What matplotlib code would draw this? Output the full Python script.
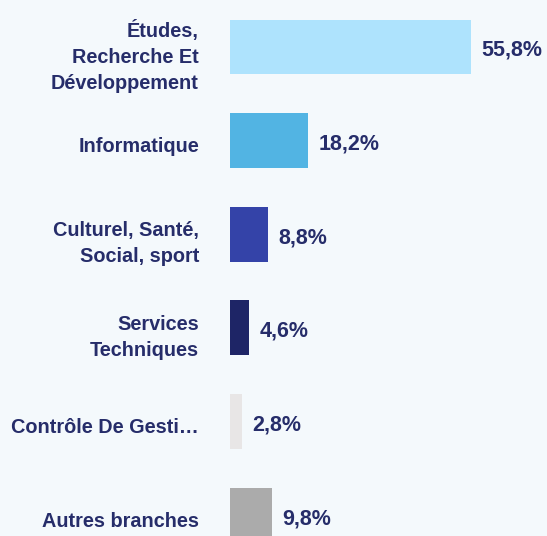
import matplotlib.pyplot as plt
from matplotlib.transforms import ScaledTranslation

categories = ["Études,\nRecherche Et\nDéveloppement", "Informatique",
              "Culturel, Santé,\nSocial, sport", "Services\nTechniques",
              "Contrôle De Gesti…", "Autres branches"]
values = [55.8, 18.2, 8.8, 4.6, 2.8, 9.8]
labels = ["55,8%", "18,2%", "8,8%", "4,6%", "2,8%", "9,8%"]
colors = ["#aee3fd", "#52b4e3", "#3443a8", "#1e2566", "#e8e6e6", "#ababab"]

bg = "#f4f9fc"
navy = "#262d6a"
plt.rcParams['font.family'] = ['Liberation Sans', 'DejaVu Sans']

fig = plt.figure(figsize=(5.47, 5.36), dpi=100, facecolor=bg)
ax = fig.add_axes([229.5 / 547, 0, 1 - 229.5 / 547, 1])
ax.set_facecolor(bg)

y = list(range(len(values)))
ax.barh(y, values, height=0.585, color=colors)
ax.set_xlim(0, (547 - 229.5) / 4.33)
ax.set_ylim(5.224, -0.502)

for yi, v, lab in zip(y, values, labels):
    ax.annotate(lab, (v, yi), xytext=(7.5, -2.5), textcoords='offset points',
                va='center', ha='left', fontsize=15.5, fontweight='bold', color=navy)

ax.set_yticks(y)
ax.set_yticklabels(categories, fontsize=14.3, fontweight='bold', color=navy,
                   linespacing=1.45)
ax.tick_params(axis='y', length=0, pad=22)
shift = ScaledTranslation(0, -0.04, fig.dpi_scale_trans)
for t in ax.get_yticklabels():
    t.set_transform(t.get_transform() + shift)
ax.set_xticks([])
for s in ax.spines.values():
    s.set_visible(False)

plt.savefig("out.png", facecolor=bg)
plt.close()
